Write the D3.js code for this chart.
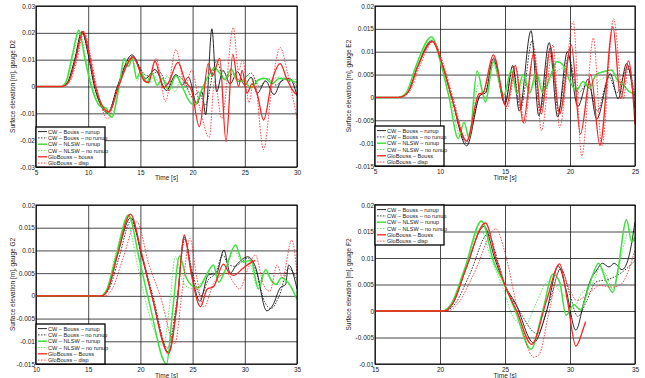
<!DOCTYPE html>
<html>
<head>
<meta charset="utf-8">
<script src="https://cdn.jsdelivr.net/npm/d3@7"></script>
<style>
  body { margin: 0; background: #fff; }
  svg { display: block; font-family: "Liberation Sans", Arial, sans-serif; }
</style>
</head>
<body>
<svg id="chart" width="645" height="378"></svg>
<script>
// ---- data (time [s], elevation [m]) ----
const legendLabelsD2 = ['CW – Bouss – runup', 'CW – Bouss – no runup', 'CW – NLSW – runup',
  'CW – NLSW – no runup', 'GloBouss – bouss', 'GloBouss – disp'];
const legendLabels = ['CW – Bouss – runup', 'CW – Bouss – no runup', 'CW – NLSW – runup',
  'CW – NLSW – no runup', 'GloBouss – Bouss', 'GloBouss – disp'];

// gauge D2
const d2XTicks = [5, 10, 15, 20, 25, 30];
const d2YTicks = [-0.03, -0.02, -0.01, 0, 0.01, 0.02, 0.03];
const d2BoussRunup = [[5,0],[7.4,0],[8.0,0.0015],[8.7,0.01],[9.4,0.0205],[10.0,0.012],[10.6,0],[11.9,-0.0099],[12.8,0],[14.2,0.0118],[15.5,0.003],[16.4,0.0063],[17.5,-0.0015],[18.4,0.0045],[19.0,0.0005],[19.6,0.0035],[20.4,-0.0065],[20.9,-0.002],[21.25,-0.0105],[21.85,0.0215],[22.3,-0.002],[22.9,0.006],[23.6,0.001],[24.3,0.0055],[25.0,0.0005],[25.6,0.0035],[26.2,-0.0025],[27.0,0.002],[27.8,-0.003],[28.5,0.002],[29.3,0.003],[30,-0.0035]];
const d2BoussNoRunup = [[5,0],[7.4,0],[8.0,0.0015],[8.7,0.0095],[9.4,0.0203],[10.0,0.012],[10.6,0],[11.9,-0.0095],[12.8,0],[14.2,0.0112],[15.6,0.004],[16.8,0.0055],[17.6,0.001],[18.5,0.004],[19.2,0.002],[20.0,-0.004],[20.6,-0.002],[21.2,-0.007],[22.3,0.0095],[23.0,0.003],[23.8,0.0045],[24.6,0.002],[25.6,0.005],[26.4,0.0],[27.2,0.003],[28.0,0.0005],[28.8,0.003],[29.5,0.002],[30,0.0]];
const d2NlswRunup = [[5,0],[7.4,0],[7.9,0.002],[8.5,0.012],[9.1,0.021],[9.7,0.01],[10.3,0],[11.2,-0.0075],[11.7,-0.008],[12.25,-0.0115],[13.0,0.001],[13.45,0.0105],[13.85,0.0075],[14.2,0.0105],[14.65,0.003],[15.0,0.0055],[15.6,0.0015],[16.1,0.005],[16.6,0.0005],[17.1,0.003],[17.7,-0.0015],[18.4,0.004],[19.0,0.0],[19.6,-0.005],[20.2,-0.007],[20.9,-0.001],[21.6,0.0045],[22.1,0.007],[22.6,0.005],[23.1,0.0025],[23.7,0.0065],[24.3,0.002],[24.9,0.002],[25.6,-0.0005],[26.3,0.0025],[27.0,0.003],[27.6,0.001],[28.3,0.003],[29.1,0.0025],[30,0.0015]];
const d2NlswNoRunup = [[5,0],[7.5,0],[8.0,0.002],[8.6,0.012],[9.15,0.0205],[9.8,0.01],[10.4,0],[11.2,-0.007],[12.2,-0.011],[13.0,0.0],[13.5,0.0105],[13.9,0.0075],[14.25,0.0105],[14.7,0.002],[15.1,0.005],[15.8,0.001],[16.3,0.004],[17.0,0.0],[17.6,0.004],[18.3,-0.002],[18.9,0.003],[19.6,-0.002],[20.3,-0.006],[21.0,-0.001],[21.8,0.004],[22.5,0.006],[23.2,0.003],[23.9,0.005],[24.6,0.002],[25.3,0.004],[26.0,0.001],[26.7,0.0035],[27.4,0.002],[28.2,0.0035],[29.0,0.003],[30,0.0025]];
const d2GloBouss = [[5,0],[7.5,0],[8.1,0.0015],[8.8,0.01],[9.5,0.0205],[10.1,0.012],[10.7,0],[12.0,-0.0095],[12.9,0],[14.3,0.011],[15.4,0.002],[15.8,0.0015],[16.4,0.0095],[17.2,-0.0005],[17.7,0.0015],[18.6,0.009],[19.3,0.002],[19.9,-0.0015],[20.65,-0.015],[21.5,0.0085],[21.9,0.004],[22.6,0.0105],[23.2,-0.0205],[23.85,0.012],[24.4,0.0],[24.75,0.006],[25.2,-0.0025],[25.7,0.001],[26.2,-0.003],[26.8,-0.0125],[27.6,0.002],[28.4,0.0085],[29.0,0.003],[29.8,-0.0025],[30,-0.003]];
const d2GloDisp = [[5,0],[7.6,0],[8.2,0.0015],[8.9,0.0095],[9.6,0.0205],[10.2,0.012],[10.8,0],[11.85,-0.012],[12.9,0],[14.3,0.0105],[15.2,0.0035],[15.7,0.0015],[16.5,0.0105],[17.4,-0.0055],[18.4,0.0138],[19.3,0.0],[19.9,0.006],[20.7,-0.008],[21.6,-0.019],[22.1,0.002],[22.8,-0.012],[23.9,0.022],[24.4,0.006],[24.8,0.01],[25.4,-0.006],[25.9,0.003],[26.8,-0.0235],[27.6,0.0],[28.4,0.0145],[29.1,0.005],[30,-0.012]];

// gauge E2
const e2XTicks = [5, 10, 15, 20, 25];
const e2YTicks = [-0.015, -0.01, -0.005, 0, 0.005, 0.01, 0.015, 0.02];
const e2BoussRunup = [[5,0],[6.8,0],[7.5,0.001],[8.3,0.007],[9.36,0.0124],[10.2,0.007],[10.9,0],[12.05,-0.0106],[13.1,0.0005],[13.5,0.001],[14.1,0.0085],[15.0,-0.0015],[15.6,0.007],[16.1,-0.003],[17.0,0.0146],[17.6,-0.004],[18.4,0.012],[19.05,-0.0043],[19.8,0.01],[20.6,-0.002],[21.4,0.004],[22.05,-0.0047],[23.1,0.0052],[23.7,-0.0003],[24.35,0.0074],[25,-0.0025]];
const e2BoussNoRunup = [[5,0],[6.8,0],[7.5,0.001],[8.3,0.0068],[9.4,0.0122],[10.2,0.007],[10.9,0],[12.0,-0.0098],[13.1,0.0005],[13.5,0.001],[14.1,0.008],[15.0,-0.001],[15.6,0.0065],[16.2,-0.0025],[17.1,0.0125],[17.7,-0.003],[18.5,0.011],[19.1,-0.003],[19.9,0.009],[20.6,0.001],[21.4,0.003],[22.1,-0.003],[23.0,0.0045],[23.6,0.001],[24.4,0.0065],[25,0.0]];
const e2NlswRunup = [[5,0],[6.8,0],[7.4,0.001],[8.1,0.0065],[9.35,0.0133],[10.1,0.007],[10.7,0],[11.4,-0.009],[11.85,-0.0055],[12.25,-0.009],[12.85,0.0058],[13.5,-0.001],[14.1,0.0078],[14.9,0.0005],[15.5,0.006],[15.9,0.0008],[16.4,0.005],[16.9,0.001],[17.4,0.0055],[17.9,0.001],[18.5,0.0048],[19.0,0.0078],[19.5,0.007],[20.0,0.0035],[20.5,0.0015],[21.0,0.0035],[21.5,0.002],[22.0,0.005],[22.55,0.0056],[23.2,0.006],[23.6,0.004],[24.1,0.0027],[24.6,0.0012],[25,0.0008]];
const e2NlswNoRunup = [[5,0],[6.8,0],[7.4,0.001],[8.1,0.006],[9.4,0.0128],[10.2,0.007],[10.8,0],[11.6,-0.0085],[12.2,-0.008],[13.0,0.003],[13.5,0.0],[14.1,0.007],[14.9,0.0],[15.5,0.0055],[16.0,0.001],[16.5,0.0045],[17.0,0.0015],[17.5,0.005],[18.0,0.0015],[18.6,0.0045],[19.1,0.006],[19.6,0.0065],[20.1,0.004],[20.6,0.002],[21.2,0.003],[21.8,0.0025],[22.4,0.004],[23.0,0.0045],[23.6,0.0035],[24.2,0.0035],[25,0.0015]];
const e2GloBouss = [[5,0],[6.8,0],[7.5,0.001],[8.3,0.0068],[9.4,0.0122],[10.2,0.007],[10.9,0],[12.05,-0.0095],[13.0,0.0008],[13.3,0.001],[14.1,0.0093],[15.1,-0.002],[15.8,0.007],[16.4,-0.0055],[17.2,0.0096],[17.8,-0.0036],[18.5,0.011],[19.2,-0.0036],[20.1,0.0115],[20.8,-0.008],[21.6,0.005],[22.3,-0.0105],[23.3,0.0155],[23.9,-0.0002],[24.5,0.008],[25,-0.0058]];
const e2GloDisp = [[5,0],[6.9,0],[7.6,0.001],[8.4,0.0065],[9.5,0.0122],[10.3,0.007],[11.0,0],[12.1,-0.0098],[13.0,0.0005],[13.3,0.0008],[14.15,0.0088],[15.15,-0.0025],[15.85,0.0065],[16.5,-0.0058],[17.25,0.0107],[17.8,-0.0073],[18.7,0.0115],[19.2,-0.0066],[20.25,0.0166],[20.9,-0.0128],[21.8,0.013],[22.45,-0.0106],[23.35,0.0172],[24.1,-0.0003],[24.5,0.007],[25,-0.0025]];

// gauge G2
const g2XTicks = [10, 15, 20, 25, 30, 35];
const g2YTicks = [-0.015, -0.01, -0.005, 0, 0.005, 0.01, 0.015, 0.02];
const g2BoussRunup = [[10,0],[16.2,0],[16.9,0.0015],[17.8,0.009],[19.07,0.0172],[20.1,0.009],[21.1,0],[22.7,-0.0124],[23.5,-0.002],[24.2,0.013],[24.9,0.005],[25.7,-0.0012],[26.5,0.0046],[27.3,0.005],[28.0,0.0101],[28.6,0.005],[29.2,0.0068],[30.3,0.0086],[31.0,0.0065],[32.1,-0.0033],[32.7,-0.002],[33.4,0.0018],[33.9,0.0025],[34.2,0.0068],[35,0.0015]];
const g2BoussNoRunup = [[10,0],[16.3,0],[17.0,0.0015],[17.9,0.008],[19.1,0.0165],[20.2,0.0085],[21.2,0],[22.6,-0.0115],[23.5,-0.001],[24.25,0.0125],[25.0,0.005],[25.8,0.0],[26.5,0.0035],[27.2,0.005],[27.9,0.009],[28.4,0.007],[29.0,0.0065],[30.3,0.0083],[31.0,0.006],[31.9,-0.0013],[32.5,-0.0028],[33.3,0.0],[34.2,0.006],[35,0.0035]];
const g2NlswRunup = [[10,0],[16.2,0],[16.8,0.0015],[17.7,0.009],[18.85,0.0178],[19.9,0.008],[20.9,-0.002],[22.5,-0.015],[23.1,-0.003],[23.75,0.0088],[24.4,0.004],[25.0,0.0022],[25.6,0.0018],[26.3,0.0045],[27.0,0.0068],[27.5,0.003],[28.1,0.0055],[29.1,0.0112],[29.8,0.0075],[30.6,0.0078],[31.3,0.0015],[32.0,0.0058],[32.5,0.0035],[33.0,0.0025],[33.5,0.004],[34.2,0.0028],[35,-0.0008]];
const g2NlswNoRunup = [[10,0],[16.2,0],[16.8,0.0015],[17.6,0.009],[18.7,0.0163],[19.7,0.007],[20.6,-0.002],[22.2,-0.011],[22.8,-0.002],[23.35,0.0086],[24.0,0.0035],[24.6,0.0018],[25.3,0.0015],[26.0,0.0035],[26.8,0.0055],[27.4,0.004],[28.2,0.006],[29.0,0.01],[29.7,0.0075],[30.5,0.007],[31.2,0.002],[31.9,0.005],[32.6,0.0035],[33.2,0.0025],[33.8,0.0035],[34.4,0.002],[35,0.0005]];
const g2GloBouss = [[10,0],[16.3,0],[16.9,0.0015],[17.8,0.009],[19.05,0.018],[20.1,0.0095],[21.1,0],[22.7,-0.0127],[23.5,-0.002],[24.2,0.0134],[24.9,0.0045],[25.75,-0.0024],[26.4,0.0015],[27.0,0.002],[27.95,0.007],[28.5,0.005],[28.9,0.0045],[29.8,0.006],[30.5,0.0072],[31.0,0.0078]];
const g2GloDisp = [[10,0],[16.6,0],[17.3,0.0015],[18.3,0.008],[19.65,0.0163],[20.8,0.007],[21.9,0],[23.3,-0.0105],[24.0,0.001],[24.75,0.0126],[25.4,0.004],[26.1,-0.0025],[27.0,0.0027],[28.3,0.005],[28.9,0.003],[29.5,0.0015],[30.3,0.006],[31.0,0.009],[31.8,0.0024],[32.4,0.001],[33.1,0.0068],[33.6,0.004],[34.5,0.0123],[35,0.005]];

// gauge F2
const f2XTicks = [15, 20, 25, 30, 35];
const f2YTicks = [-0.01, -0.005, 0, 0.005, 0.01, 0.015, 0.02];
const f2BoussRunup = [[15,0],[20.3,0],[21.0,0.0015],[22.0,0.008],[23.4,0.016],[24.2,0.01],[25.0,0.0048],[25.8,0.0015],[27.2,-0.006],[28.2,0.0],[29.1,0.0085],[29.7,0.004],[30.45,-0.0036],[31.1,0.002],[31.6,0.006],[32.0,0.0075],[32.5,0.009],[33.0,0.0083],[33.4,0.009],[34.0,0.0078],[34.5,0.01],[35,0.0168]];
const f2BoussNoRunup = [[15,0],[20.4,0],[21.2,0.0015],[22.3,0.007],[23.7,0.0145],[24.5,0.009],[25.0,0.005],[26.0,0.0005],[27.5,-0.0043],[28.4,0.0015],[29.3,0.008],[30.0,0.003],[30.6,-0.001],[31.3,0.002],[32.0,0.0055],[33.0,0.006],[34.1,0.0075],[35,0.0095]];
const f2NlswRunup = [[15,0],[20.2,0],[20.9,0.0015],[21.9,0.008],[23.2,0.017],[24.1,0.0095],[25.0,0.0048],[25.8,0.0],[27.0,-0.0072],[27.9,0.0],[28.7,0.007],[29.2,0.0055],[29.7,-0.0008],[30.3,0.0012],[30.8,0.0002],[31.5,0.005],[32.2,0.009],[32.8,0.0055],[33.3,0.0035],[33.7,0.008],[34.35,0.0172],[34.75,0.013],[35,0.014]];
const f2NlswNoRunup = [[15,0],[20.2,0],[20.9,0.0015],[21.9,0.0075],[23.1,0.0155],[23.9,0.01],[24.9,0.004],[25.6,-0.001],[26.5,-0.0028],[27.4,0.0015],[28.3,0.0055],[28.7,0.0055],[29.2,0.0037],[29.9,0.0023],[30.4,0.0012],[30.8,0.003],[31.8,0.0055],[32.3,0.008],[32.8,0.0068],[33.3,0.004],[34.2,0.013],[34.6,0.0155],[35,0.013]];
const f2GloBouss = [[15,0],[20.3,0],[21.0,0.0015],[22.0,0.008],[23.5,0.0166],[24.3,0.01],[25.0,0.0048],[25.9,0.0],[27.05,-0.0063],[28.2,0.002],[29.2,0.0089],[29.8,0.002],[30.45,-0.0066],[31.0,-0.0035],[31.2,-0.002]];
const f2GloDisp = [[15,0],[20.6,0],[21.4,0.0015],[22.6,0.007],[24.3,0.0155],[25.0,0.011],[26.0,0.0],[27.2,-0.0087],[27.6,-0.0083],[28.4,0.0],[29.25,0.008],[30.0,0.004],[30.5,0.002],[31.5,0.0035],[32.3,0.0048],[33.2,0.0045],[33.9,0.005],[35,0.0115]];

// ---- styles for the six runs, in legend order ----
const seriesStyles = [
  { color: '#111', width: 0.9, dash: null },
  { color: '#111', width: 0.8, dash: '1.6,1.3' },
  { color: '#3ee23e', width: 1.5, dash: null },
  { color: '#3ee23e', width: 0.8, dash: '1.6,1.3' },
  { color: '#f22', width: 1.3, dash: null },
  { color: '#f22', width: 0.8, dash: '1.6,1.3' }
];

const panels = [
  { gauge: 'D2', box: [36, 6, 297, 167], xDomain: [5, 30], xTicks: d2XTicks, yDomain: [-0.03, 0.03], yTicks: d2YTicks,
    series: [d2BoussRunup, d2BoussNoRunup, d2NlswRunup, d2NlswNoRunup, d2GloBouss, d2GloDisp],
    labels: legendLabelsD2, legendTop: false, yLabelX: 15, xLabelY: 180 },
  { gauge: 'E2', box: [375, 6, 635, 166], xDomain: [5, 25], xTicks: e2XTicks, yDomain: [-0.015, 0.02], yTicks: e2YTicks,
    series: [e2BoussRunup, e2BoussNoRunup, e2NlswRunup, e2NlswNoRunup, e2GloBouss, e2GloDisp],
    labels: legendLabels, legendTop: false, yLabelX: 351, xLabelY: 180 },
  { gauge: 'G2', box: [36, 205, 297, 364], xDomain: [10, 35], xTicks: g2XTicks, yDomain: [-0.015, 0.02], yTicks: g2YTicks,
    series: [g2BoussRunup, g2BoussNoRunup, g2NlswRunup, g2NlswNoRunup, g2GloBouss, g2GloDisp],
    labels: legendLabels, legendTop: false, yLabelX: 15, xLabelY: 378 },
  { gauge: 'F2', box: [375, 205, 635, 364], xDomain: [15, 35], xTicks: f2XTicks, yDomain: [-0.01, 0.02], yTicks: f2YTicks,
    series: [f2BoussRunup, f2BoussNoRunup, f2NlswRunup, f2NlswNoRunup, f2GloBouss, f2GloDisp],
    labels: legendLabels, legendTop: true, yLabelX: 351, xLabelY: 378 }
];

const svg = d3.select('#chart');

function drawPanel(p) {
  const [x0, y0, x1, y1] = p.box;
  const x = d3.scaleLinear().domain(p.xDomain).range([x0, x1]);
  const y = d3.scaleLinear().domain(p.yDomain).range([y1, y0]);
  const g = svg.append('g');

  // grid
  g.append('g').call(d3.axisBottom(x).tickValues(p.xTicks).tickSize(-(y1 - y0)).tickFormat(''))
    .attr('transform', `translate(0,${y1})`)
    .call(s => s.select('.domain').remove())
    .selectAll('line').attr('stroke', '#1a1a1a').attr('stroke-width', 0.8);
  g.append('g').call(d3.axisLeft(y).tickValues(p.yTicks).tickSize(-(x1 - x0)).tickFormat(''))
    .attr('transform', `translate(${x0},0)`)
    .call(s => s.select('.domain').remove())
    .selectAll('line').attr('stroke', '#1a1a1a').attr('stroke-width', 0.8);

  // curves
  const clipId = 'clip' + p.gauge;
  g.append('clipPath').attr('id', clipId).append('rect')
    .attr('x', x0).attr('y', y0).attr('width', x1 - x0).attr('height', y1 - y0);
  const line = d3.line().x(d => x(d[0])).y(d => y(d[1])).curve(d3.curveMonotoneX);
  p.series.forEach((data, i) => {
    const st = seriesStyles[i];
    g.append('path').datum(data)
      .attr('clip-path', `url(#${clipId})`)
      .attr('d', line)
      .attr('fill', 'none')
      .attr('stroke', st.color)
      .attr('stroke-width', st.width)
      .attr('stroke-dasharray', st.dash);
  });

  // frame
  g.append('rect').attr('x', x0).attr('y', y0).attr('width', x1 - x0).attr('height', y1 - y0)
    .attr('fill', 'none').attr('stroke', '#000').attr('stroke-width', 1);

  // tick labels
  g.append('g').call(d3.axisBottom(x).tickValues(p.xTicks).tickSize(0).tickPadding(3).tickFormat(d => d))
    .attr('transform', `translate(0,${y1})`)
    .call(s => s.select('.domain').remove())
    .selectAll('text').attr('font-size', 6.5).attr('font-family', 'Liberation Sans, Arial, sans-serif').attr('fill', '#222');
  g.append('g').call(d3.axisLeft(y).tickValues(p.yTicks).tickSize(0).tickPadding(1).tickFormat(d => String(d)))
    .attr('transform', `translate(${x0},0)`)
    .call(s => s.select('.domain').remove())
    .selectAll('text').attr('font-size', 6.5).attr('font-family', 'Liberation Sans, Arial, sans-serif').attr('fill', '#222');

  // axis titles
  g.append('text').attr('x', (x0 + x1) / 2).attr('y', p.xLabelY)
    .attr('text-anchor', 'middle').attr('font-size', 6.5).attr('fill', '#222').text('Time [s]');
  g.append('text').attr('transform', `translate(${p.yLabelX},${(y0 + y1) / 2}) rotate(-90)`)
    .attr('text-anchor', 'middle').attr('font-size', 6.5).attr('fill', '#222')
    .text('Surface elevation [m], gauge ' + p.gauge);

  // legend
  const lw = 69, lh = 40;
  const ly = p.legendTop ? y0 : y1 - lh;
  const lg = g.append('g').attr('transform', `translate(${x0},${ly})`);
  lg.append('rect').attr('width', lw).attr('height', lh).attr('fill', '#fff')
    .attr('stroke', '#000').attr('stroke-width', 1.3);
  p.labels.forEach((lab, i) => {
    const st = seriesStyles[i];
    const ry = 4.6 + i * 6.3;
    lg.append('line').attr('x1', 2).attr('x2', 11).attr('y1', ry).attr('y2', ry)
      .attr('stroke', st.color).attr('stroke-width', st.width).attr('stroke-dasharray', st.dash);
    lg.append('text').attr('x', 12).attr('y', ry + 2).attr('font-size', 5.6).attr('fill', '#222').text(lab);
  });
}

panels.forEach(drawPanel);
</script>
</body>
</html>
